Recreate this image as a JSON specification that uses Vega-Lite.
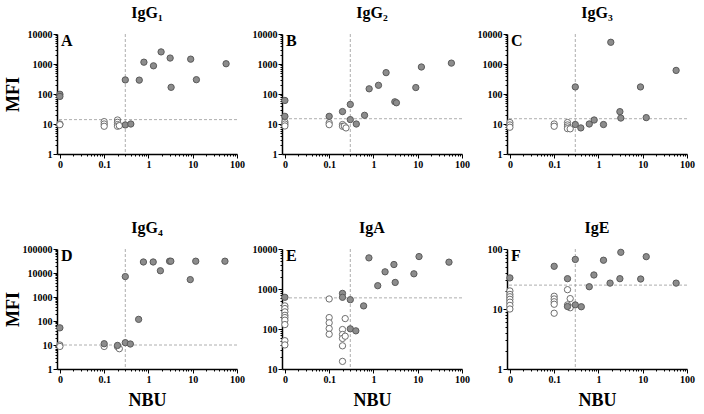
{
  "$schema": "https://vega.github.io/schema/vega-lite/v6.json",
  "background": "white",
  "padding": {"left": 4, "top": 5, "right": 5, "bottom": 5},
  "datasets": {
    "cuts": [
      {"panel": "A", "letter": "A", "nbu_cut": 0.3, "mfi_cut": 14},
      {"panel": "B", "letter": "B", "nbu_cut": 0.3, "mfi_cut": 15},
      {"panel": "C", "letter": "C", "nbu_cut": 0.3, "mfi_cut": 15},
      {"panel": "D", "letter": "D", "nbu_cut": 0.3, "mfi_cut": 10},
      {"panel": "E", "letter": "E", "nbu_cut": 0.3, "mfi_cut": 600},
      {"panel": "F", "letter": "F", "nbu_cut": 0.3, "mfi_cut": 25}
    ],
    "pts": [
      {"panel": "A", "nbu": 0.01, "mfi": 10, "type": "neg"},
      {"panel": "A", "nbu": 0.01, "mfi": 9.5, "type": "neg"},
      {"panel": "A", "nbu": 0.1, "mfi": 12, "type": "neg"},
      {"panel": "A", "nbu": 0.1, "mfi": 10, "type": "neg"},
      {"panel": "A", "nbu": 0.1, "mfi": 8.4, "type": "neg"},
      {"panel": "A", "nbu": 0.2, "mfi": 13.6, "type": "neg"},
      {"panel": "A", "nbu": 0.2, "mfi": 11.4, "type": "neg"},
      {"panel": "A", "nbu": 0.2, "mfi": 9.6, "type": "neg"},
      {"panel": "A", "nbu": 0.2, "mfi": 8.4, "type": "neg"},
      {"panel": "A", "nbu": 0.22, "mfi": 8.8, "type": "neg"},
      {"panel": "A", "nbu": 0.01, "mfi": 98, "type": "pos"},
      {"panel": "A", "nbu": 0.01, "mfi": 83, "type": "pos"},
      {"panel": "A", "nbu": 0.3, "mfi": 9.3, "type": "pos"},
      {"panel": "A", "nbu": 0.4, "mfi": 10, "type": "pos"},
      {"panel": "A", "nbu": 0.3, "mfi": 295, "type": "pos"},
      {"panel": "A", "nbu": 0.62, "mfi": 290, "type": "pos"},
      {"panel": "A", "nbu": 0.79, "mfi": 1150, "type": "pos"},
      {"panel": "A", "nbu": 1.3, "mfi": 870, "type": "pos"},
      {"panel": "A", "nbu": 1.93, "mfi": 2530, "type": "pos"},
      {"panel": "A", "nbu": 3.09, "mfi": 1580, "type": "pos"},
      {"panel": "A", "nbu": 3.25, "mfi": 167, "type": "pos"},
      {"panel": "A", "nbu": 9.0, "mfi": 1450, "type": "pos"},
      {"panel": "A", "nbu": 12.1, "mfi": 300, "type": "pos"},
      {"panel": "A", "nbu": 56.7, "mfi": 1020, "type": "pos"},

      {"panel": "B", "nbu": 0.01, "mfi": 11.7, "type": "neg"},
      {"panel": "B", "nbu": 0.01, "mfi": 10, "type": "neg"},
      {"panel": "B", "nbu": 0.01, "mfi": 8.6, "type": "neg"},
      {"panel": "B", "nbu": 0.1, "mfi": 11, "type": "neg"},
      {"panel": "B", "nbu": 0.1, "mfi": 9.5, "type": "neg"},
      {"panel": "B", "nbu": 0.2, "mfi": 9.6, "type": "neg"},
      {"panel": "B", "nbu": 0.2, "mfi": 8.4, "type": "neg"},
      {"panel": "B", "nbu": 0.22, "mfi": 8.5, "type": "neg"},
      {"panel": "B", "nbu": 0.24, "mfi": 7.4, "type": "neg"},
      {"panel": "B", "nbu": 0.01, "mfi": 61, "type": "pos"},
      {"panel": "B", "nbu": 0.01, "mfi": 18, "type": "pos"},
      {"panel": "B", "nbu": 0.1, "mfi": 18, "type": "pos"},
      {"panel": "B", "nbu": 0.2, "mfi": 26, "type": "pos"},
      {"panel": "B", "nbu": 0.3, "mfi": 45, "type": "pos"},
      {"panel": "B", "nbu": 0.3, "mfi": 14, "type": "pos"},
      {"panel": "B", "nbu": 0.41, "mfi": 10, "type": "pos"},
      {"panel": "B", "nbu": 0.63, "mfi": 19.5, "type": "pos"},
      {"panel": "B", "nbu": 0.8, "mfi": 149, "type": "pos"},
      {"panel": "B", "nbu": 1.3, "mfi": 195, "type": "pos"},
      {"panel": "B", "nbu": 1.93, "mfi": 515, "type": "pos"},
      {"panel": "B", "nbu": 3.04, "mfi": 55, "type": "pos"},
      {"panel": "B", "nbu": 3.3, "mfi": 51, "type": "pos"},
      {"panel": "B", "nbu": 9.05, "mfi": 164, "type": "pos"},
      {"panel": "B", "nbu": 12.1, "mfi": 795, "type": "pos"},
      {"panel": "B", "nbu": 57.6, "mfi": 1070, "type": "pos"},

      {"panel": "C", "nbu": 0.01, "mfi": 11.2, "type": "neg"},
      {"panel": "C", "nbu": 0.01, "mfi": 9.3, "type": "neg"},
      {"panel": "C", "nbu": 0.01, "mfi": 7.8, "type": "neg"},
      {"panel": "C", "nbu": 0.1, "mfi": 10, "type": "neg"},
      {"panel": "C", "nbu": 0.1, "mfi": 8.4, "type": "neg"},
      {"panel": "C", "nbu": 0.2, "mfi": 11.2, "type": "neg"},
      {"panel": "C", "nbu": 0.2, "mfi": 9.3, "type": "neg"},
      {"panel": "C", "nbu": 0.2, "mfi": 8.0, "type": "neg"},
      {"panel": "C", "nbu": 0.2, "mfi": 7.0, "type": "neg"},
      {"panel": "C", "nbu": 0.23, "mfi": 6.9, "type": "neg"},
      {"panel": "C", "nbu": 0.3, "mfi": 172, "type": "pos"},
      {"panel": "C", "nbu": 0.3, "mfi": 9.6, "type": "pos"},
      {"panel": "C", "nbu": 0.4, "mfi": 7.4, "type": "pos"},
      {"panel": "C", "nbu": 0.62, "mfi": 10, "type": "pos"},
      {"panel": "C", "nbu": 0.8, "mfi": 13.6, "type": "pos"},
      {"panel": "C", "nbu": 1.3, "mfi": 9.6, "type": "pos"},
      {"panel": "C", "nbu": 1.9, "mfi": 5300, "type": "pos"},
      {"panel": "C", "nbu": 3.05, "mfi": 25.8, "type": "pos"},
      {"panel": "C", "nbu": 3.2, "mfi": 15.8, "type": "pos"},
      {"panel": "C", "nbu": 8.9, "mfi": 172, "type": "pos"},
      {"panel": "C", "nbu": 12, "mfi": 16.3, "type": "pos"},
      {"panel": "C", "nbu": 56.8, "mfi": 612, "type": "pos"},

      {"panel": "D", "nbu": 0.01, "mfi": 10, "type": "neg"},
      {"panel": "D", "nbu": 0.01, "mfi": 8.7, "type": "neg"},
      {"panel": "D", "nbu": 0.1, "mfi": 8.7, "type": "neg"},
      {"panel": "D", "nbu": 0.2, "mfi": 8.5, "type": "neg"},
      {"panel": "D", "nbu": 0.22, "mfi": 7, "type": "neg"},
      {"panel": "D", "nbu": 0.01, "mfi": 52, "type": "pos"},
      {"panel": "D", "nbu": 0.1, "mfi": 11.3, "type": "pos"},
      {"panel": "D", "nbu": 0.2, "mfi": 9.6, "type": "pos"},
      {"panel": "D", "nbu": 0.3, "mfi": 7100, "type": "pos"},
      {"panel": "D", "nbu": 0.3, "mfi": 12.5, "type": "pos"},
      {"panel": "D", "nbu": 0.39, "mfi": 11, "type": "pos"},
      {"panel": "D", "nbu": 0.6, "mfi": 117, "type": "pos"},
      {"panel": "D", "nbu": 0.77, "mfi": 28800, "type": "pos"},
      {"panel": "D", "nbu": 1.28, "mfi": 28800, "type": "pos"},
      {"panel": "D", "nbu": 1.86, "mfi": 12400, "type": "pos"},
      {"panel": "D", "nbu": 3.0, "mfi": 31000, "type": "pos"},
      {"panel": "D", "nbu": 3.2, "mfi": 31000, "type": "pos"},
      {"panel": "D", "nbu": 8.8, "mfi": 5300, "type": "pos"},
      {"panel": "D", "nbu": 11.7, "mfi": 31000, "type": "pos"},
      {"panel": "D", "nbu": 53.4, "mfi": 31000, "type": "pos"},

      {"panel": "E", "nbu": 0.01, "mfi": 378, "type": "neg"},
      {"panel": "E", "nbu": 0.01, "mfi": 324, "type": "neg"},
      {"panel": "E", "nbu": 0.01, "mfi": 268, "type": "neg"},
      {"panel": "E", "nbu": 0.01, "mfi": 220, "type": "neg"},
      {"panel": "E", "nbu": 0.01, "mfi": 193, "type": "neg"},
      {"panel": "E", "nbu": 0.01, "mfi": 166, "type": "neg"},
      {"panel": "E", "nbu": 0.01, "mfi": 129, "type": "neg"},
      {"panel": "E", "nbu": 0.01, "mfi": 51, "type": "neg"},
      {"panel": "E", "nbu": 0.01, "mfi": 40, "type": "neg"},
      {"panel": "E", "nbu": 0.1, "mfi": 564, "type": "neg"},
      {"panel": "E", "nbu": 0.1, "mfi": 193, "type": "neg"},
      {"panel": "E", "nbu": 0.1, "mfi": 143, "type": "neg"},
      {"panel": "E", "nbu": 0.1, "mfi": 103, "type": "neg"},
      {"panel": "E", "nbu": 0.1, "mfi": 74, "type": "neg"},
      {"panel": "E", "nbu": 0.2, "mfi": 97, "type": "neg"},
      {"panel": "E", "nbu": 0.2, "mfi": 73, "type": "neg"},
      {"panel": "E", "nbu": 0.2, "mfi": 58, "type": "neg"},
      {"panel": "E", "nbu": 0.2, "mfi": 38, "type": "neg"},
      {"panel": "E", "nbu": 0.2, "mfi": 15.5, "type": "neg"},
      {"panel": "E", "nbu": 0.23, "mfi": 182, "type": "neg"},
      {"panel": "E", "nbu": 0.23, "mfi": 66, "type": "neg"},
      {"panel": "E", "nbu": 0.01, "mfi": 620, "type": "pos"},
      {"panel": "E", "nbu": 0.2, "mfi": 777, "type": "pos"},
      {"panel": "E", "nbu": 0.2, "mfi": 620, "type": "pos"},
      {"panel": "E", "nbu": 0.3, "mfi": 540, "type": "pos"},
      {"panel": "E", "nbu": 0.3, "mfi": 101, "type": "pos"},
      {"panel": "E", "nbu": 0.4, "mfi": 90, "type": "pos"},
      {"panel": "E", "nbu": 0.6, "mfi": 378, "type": "pos"},
      {"panel": "E", "nbu": 0.79, "mfi": 6000, "type": "pos"},
      {"panel": "E", "nbu": 1.25, "mfi": 1210, "type": "pos"},
      {"panel": "E", "nbu": 1.83, "mfi": 2690, "type": "pos"},
      {"panel": "E", "nbu": 2.9, "mfi": 4090, "type": "pos"},
      {"panel": "E", "nbu": 3.1, "mfi": 1460, "type": "pos"},
      {"panel": "E", "nbu": 8.2, "mfi": 2400, "type": "pos"},
      {"panel": "E", "nbu": 10.7, "mfi": 6470, "type": "pos"},
      {"panel": "E", "nbu": 50.8, "mfi": 4690, "type": "pos"},

      {"panel": "F", "nbu": 0.01, "mfi": 20, "type": "neg"},
      {"panel": "F", "nbu": 0.01, "mfi": 17.5, "type": "neg"},
      {"panel": "F", "nbu": 0.01, "mfi": 16, "type": "neg"},
      {"panel": "F", "nbu": 0.01, "mfi": 14.5, "type": "neg"},
      {"panel": "F", "nbu": 0.01, "mfi": 13, "type": "neg"},
      {"panel": "F", "nbu": 0.01, "mfi": 11.5, "type": "neg"},
      {"panel": "F", "nbu": 0.01, "mfi": 10, "type": "neg"},
      {"panel": "F", "nbu": 0.1, "mfi": 16.3, "type": "neg"},
      {"panel": "F", "nbu": 0.1, "mfi": 14.7, "type": "neg"},
      {"panel": "F", "nbu": 0.1, "mfi": 13.2, "type": "neg"},
      {"panel": "F", "nbu": 0.1, "mfi": 12, "type": "neg"},
      {"panel": "F", "nbu": 0.1, "mfi": 8.5, "type": "neg"},
      {"panel": "F", "nbu": 0.2, "mfi": 21, "type": "neg"},
      {"panel": "F", "nbu": 0.23, "mfi": 14.9, "type": "neg"},
      {"panel": "F", "nbu": 0.2, "mfi": 11.7, "type": "neg"},
      {"panel": "F", "nbu": 0.23, "mfi": 10.5, "type": "neg"},
      {"panel": "F", "nbu": 0.01, "mfi": 33, "type": "pos"},
      {"panel": "F", "nbu": 0.1, "mfi": 51.5, "type": "pos"},
      {"panel": "F", "nbu": 0.2, "mfi": 32, "type": "pos"},
      {"panel": "F", "nbu": 0.2, "mfi": 11, "type": "pos"},
      {"panel": "F", "nbu": 0.3, "mfi": 67, "type": "pos"},
      {"panel": "F", "nbu": 0.3, "mfi": 11.7, "type": "pos"},
      {"panel": "F", "nbu": 0.41, "mfi": 10.9, "type": "pos"},
      {"panel": "F", "nbu": 0.62, "mfi": 23.5, "type": "pos"},
      {"panel": "F", "nbu": 0.79, "mfi": 36.9, "type": "pos"},
      {"panel": "F", "nbu": 1.3, "mfi": 65, "type": "pos"},
      {"panel": "F", "nbu": 1.83, "mfi": 27, "type": "pos"},
      {"panel": "F", "nbu": 3.2, "mfi": 88, "type": "pos"},
      {"panel": "F", "nbu": 3.05, "mfi": 32, "type": "pos"},
      {"panel": "F", "nbu": 9.0, "mfi": 31.6, "type": "pos"},
      {"panel": "F", "nbu": 12, "mfi": 74.5, "type": "pos"},
      {"panel": "F", "nbu": 56.8, "mfi": 27, "type": "pos"}
    ]
  },
  "columns": 3,
  "bounds": "flush",
  "spacing": {"row": 95, "column": 45},
  "concat": [
    {
      "width": 180, "height": 120, "title": "IgG₁",
      "resolve": {"axis": {"x": "independent", "y": "independent"}},
      "layer": [
        {"data": {"name": "cuts"}, "transform": [{"filter": "datum.panel === 'A'"}],
         "mark": {"type": "rule", "color": "#999999", "strokeDash": [3, 2], "strokeWidth": 0.8},
         "encoding": {"x": {"field": "nbu_cut", "type": "quantitative", "scale": {"type": "log", "domain": [0.0086, 100], "nice": false},
           "axis": {"orient": "bottom", "values": [0.02,0.03,0.04,0.05,0.06,0.07,0.08,0.09,0.2,0.3,0.4,0.5,0.6,0.7,0.8,0.9,2,3,4,5,6,7,8,9,20,30,40,50,60,70,80,90], "tickSize": 2, "labels": false, "domain": false, "title": null}}}},
        {"data": {"name": "cuts"}, "transform": [{"filter": "datum.panel === 'A'"}],
         "mark": {"type": "rule", "color": "#999999", "strokeDash": [3, 2], "strokeWidth": 0.8},
         "encoding": {"y": {"field": "mfi_cut", "type": "quantitative", "scale": {"type": "log", "domain": [1, 10000], "nice": false},
           "axis": {"orient": "left", "values": [2,3,4,5,6,7,8,9,20,30,40,50,60,70,80,90,200,300,400,500,600,700,800,900,2000,3000,4000,5000,6000,7000,8000,9000], "tickSize": 2, "labels": false, "domain": false, "title": null}}}},
        {"data": {"name": "pts"}, "transform": [{"filter": "datum.panel === 'A'"}],
         "mark": {"type": "point", "shape": "circle", "filled": true, "size": 40, "strokeWidth": 1, "opacity": 1},
         "encoding": {
           "x": {"field": "nbu", "type": "quantitative", "scale": {"type": "log", "domain": [0.0086, 100], "nice": false},
             "axis": {"orient": "bottom", "values": [0.01, 0.1, 1, 10, 100], "title": null}},
           "y": {"field": "mfi", "type": "quantitative", "scale": {"type": "log", "domain": [1, 10000], "nice": false},
             "axis": {"orient": "left", "values": [1, 10, 100, 1000, 10000], "title": "MFI"}},
           "fill": {"field": "type", "type": "nominal", "scale": {"domain": ["pos", "neg"], "range": ["#8c8c8c", "#ffffff"]}, "legend": null},
           "stroke": {"field": "type", "type": "nominal", "scale": {"domain": ["pos", "neg"], "range": ["#5a5a5a", "#6e6e6e"]}, "legend": null}}},
        {"data": {"name": "cuts"}, "transform": [{"filter": "datum.panel === 'A'"}],
         "mark": {"type": "text", "align": "left", "baseline": "top", "font": "Liberation Serif", "fontWeight": "bold", "fontSize": 16, "dx": 4, "dy": -1},
         "encoding": {
           "x": {"datum": 0.0086, "type": "quantitative", "scale": {"type": "log", "domain": [0.0086, 100], "nice": false}, "axis": null},
           "y": {"datum": 10000, "type": "quantitative", "scale": {"type": "log", "domain": [1, 10000], "nice": false}, "axis": null},
           "text": {"field": "letter"}}}
      ]
    },
    {
      "width": 180, "height": 120, "title": "IgG₂",
      "resolve": {"axis": {"x": "independent", "y": "independent"}},
      "layer": [
        {"data": {"name": "cuts"}, "transform": [{"filter": "datum.panel === 'B'"}],
         "mark": {"type": "rule", "color": "#999999", "strokeDash": [3, 2], "strokeWidth": 0.8},
         "encoding": {"x": {"field": "nbu_cut", "type": "quantitative", "scale": {"type": "log", "domain": [0.0086, 100], "nice": false},
           "axis": {"orient": "bottom", "values": [0.02,0.03,0.04,0.05,0.06,0.07,0.08,0.09,0.2,0.3,0.4,0.5,0.6,0.7,0.8,0.9,2,3,4,5,6,7,8,9,20,30,40,50,60,70,80,90], "tickSize": 2, "labels": false, "domain": false, "title": null}}}},
        {"data": {"name": "cuts"}, "transform": [{"filter": "datum.panel === 'B'"}],
         "mark": {"type": "rule", "color": "#999999", "strokeDash": [3, 2], "strokeWidth": 0.8},
         "encoding": {"y": {"field": "mfi_cut", "type": "quantitative", "scale": {"type": "log", "domain": [1, 10000], "nice": false},
           "axis": {"orient": "left", "values": [2,3,4,5,6,7,8,9,20,30,40,50,60,70,80,90,200,300,400,500,600,700,800,900,2000,3000,4000,5000,6000,7000,8000,9000], "tickSize": 2, "labels": false, "domain": false, "title": null}}}},
        {"data": {"name": "pts"}, "transform": [{"filter": "datum.panel === 'B'"}],
         "mark": {"type": "point", "shape": "circle", "filled": true, "size": 40, "strokeWidth": 1, "opacity": 1},
         "encoding": {
           "x": {"field": "nbu", "type": "quantitative", "scale": {"type": "log", "domain": [0.0086, 100], "nice": false},
             "axis": {"orient": "bottom", "values": [0.01, 0.1, 1, 10, 100], "title": null}},
           "y": {"field": "mfi", "type": "quantitative", "scale": {"type": "log", "domain": [1, 10000], "nice": false},
             "axis": {"orient": "left", "values": [1, 10, 100, 1000, 10000], "title": null}},
           "fill": {"field": "type", "type": "nominal", "scale": {"domain": ["pos", "neg"], "range": ["#8c8c8c", "#ffffff"]}, "legend": null},
           "stroke": {"field": "type", "type": "nominal", "scale": {"domain": ["pos", "neg"], "range": ["#5a5a5a", "#6e6e6e"]}, "legend": null}}},
        {"data": {"name": "cuts"}, "transform": [{"filter": "datum.panel === 'B'"}],
         "mark": {"type": "text", "align": "left", "baseline": "top", "font": "Liberation Serif", "fontWeight": "bold", "fontSize": 16, "dx": 4, "dy": -1},
         "encoding": {
           "x": {"datum": 0.0086, "type": "quantitative", "scale": {"type": "log", "domain": [0.0086, 100], "nice": false}, "axis": null},
           "y": {"datum": 10000, "type": "quantitative", "scale": {"type": "log", "domain": [1, 10000], "nice": false}, "axis": null},
           "text": {"field": "letter"}}}
      ]
    },
    {
      "width": 180, "height": 120, "title": "IgG₃",
      "resolve": {"axis": {"x": "independent", "y": "independent"}},
      "layer": [
        {"data": {"name": "cuts"}, "transform": [{"filter": "datum.panel === 'C'"}],
         "mark": {"type": "rule", "color": "#999999", "strokeDash": [3, 2], "strokeWidth": 0.8},
         "encoding": {"x": {"field": "nbu_cut", "type": "quantitative", "scale": {"type": "log", "domain": [0.0086, 100], "nice": false},
           "axis": {"orient": "bottom", "values": [0.02,0.03,0.04,0.05,0.06,0.07,0.08,0.09,0.2,0.3,0.4,0.5,0.6,0.7,0.8,0.9,2,3,4,5,6,7,8,9,20,30,40,50,60,70,80,90], "tickSize": 2, "labels": false, "domain": false, "title": null}}}},
        {"data": {"name": "cuts"}, "transform": [{"filter": "datum.panel === 'C'"}],
         "mark": {"type": "rule", "color": "#999999", "strokeDash": [3, 2], "strokeWidth": 0.8},
         "encoding": {"y": {"field": "mfi_cut", "type": "quantitative", "scale": {"type": "log", "domain": [1, 10000], "nice": false},
           "axis": {"orient": "left", "values": [2,3,4,5,6,7,8,9,20,30,40,50,60,70,80,90,200,300,400,500,600,700,800,900,2000,3000,4000,5000,6000,7000,8000,9000], "tickSize": 2, "labels": false, "domain": false, "title": null}}}},
        {"data": {"name": "pts"}, "transform": [{"filter": "datum.panel === 'C'"}],
         "mark": {"type": "point", "shape": "circle", "filled": true, "size": 40, "strokeWidth": 1, "opacity": 1},
         "encoding": {
           "x": {"field": "nbu", "type": "quantitative", "scale": {"type": "log", "domain": [0.0086, 100], "nice": false},
             "axis": {"orient": "bottom", "values": [0.01, 0.1, 1, 10, 100], "title": null}},
           "y": {"field": "mfi", "type": "quantitative", "scale": {"type": "log", "domain": [1, 10000], "nice": false},
             "axis": {"orient": "left", "values": [1, 10, 100, 1000, 10000], "title": null}},
           "fill": {"field": "type", "type": "nominal", "scale": {"domain": ["pos", "neg"], "range": ["#8c8c8c", "#ffffff"]}, "legend": null},
           "stroke": {"field": "type", "type": "nominal", "scale": {"domain": ["pos", "neg"], "range": ["#5a5a5a", "#6e6e6e"]}, "legend": null}}},
        {"data": {"name": "cuts"}, "transform": [{"filter": "datum.panel === 'C'"}],
         "mark": {"type": "text", "align": "left", "baseline": "top", "font": "Liberation Serif", "fontWeight": "bold", "fontSize": 16, "dx": 4, "dy": -1},
         "encoding": {
           "x": {"datum": 0.0086, "type": "quantitative", "scale": {"type": "log", "domain": [0.0086, 100], "nice": false}, "axis": null},
           "y": {"datum": 10000, "type": "quantitative", "scale": {"type": "log", "domain": [1, 10000], "nice": false}, "axis": null},
           "text": {"field": "letter"}}}
      ]
    },
    {
      "width": 180, "height": 120, "title": "IgG₄",
      "resolve": {"axis": {"x": "independent", "y": "independent"}},
      "layer": [
        {"data": {"name": "cuts"}, "transform": [{"filter": "datum.panel === 'D'"}],
         "mark": {"type": "rule", "color": "#999999", "strokeDash": [3, 2], "strokeWidth": 0.8},
         "encoding": {"x": {"field": "nbu_cut", "type": "quantitative", "scale": {"type": "log", "domain": [0.0086, 100], "nice": false},
           "axis": {"orient": "bottom", "values": [0.02,0.03,0.04,0.05,0.06,0.07,0.08,0.09,0.2,0.3,0.4,0.5,0.6,0.7,0.8,0.9,2,3,4,5,6,7,8,9,20,30,40,50,60,70,80,90], "tickSize": 2, "labels": false, "domain": false, "title": null}}}},
        {"data": {"name": "cuts"}, "transform": [{"filter": "datum.panel === 'D'"}],
         "mark": {"type": "rule", "color": "#999999", "strokeDash": [3, 2], "strokeWidth": 0.8},
         "encoding": {"y": {"field": "mfi_cut", "type": "quantitative", "scale": {"type": "log", "domain": [1, 100000], "nice": false},
           "axis": {"orient": "left", "values": [2,3,4,5,6,7,8,9,20,30,40,50,60,70,80,90,200,300,400,500,600,700,800,900,2000,3000,4000,5000,6000,7000,8000,9000,20000,30000,40000,50000,60000,70000,80000,90000], "tickSize": 2, "labels": false, "domain": false, "title": null}}}},
        {"data": {"name": "pts"}, "transform": [{"filter": "datum.panel === 'D'"}],
         "mark": {"type": "point", "shape": "circle", "filled": true, "size": 40, "strokeWidth": 1, "opacity": 1},
         "encoding": {
           "x": {"field": "nbu", "type": "quantitative", "scale": {"type": "log", "domain": [0.0086, 100], "nice": false},
             "axis": {"orient": "bottom", "values": [0.01, 0.1, 1, 10, 100], "title": "NBU"}},
           "y": {"field": "mfi", "type": "quantitative", "scale": {"type": "log", "domain": [1, 100000], "nice": false},
             "axis": {"orient": "left", "values": [1, 10, 100, 1000, 10000, 100000], "title": "MFI"}},
           "fill": {"field": "type", "type": "nominal", "scale": {"domain": ["pos", "neg"], "range": ["#8c8c8c", "#ffffff"]}, "legend": null},
           "stroke": {"field": "type", "type": "nominal", "scale": {"domain": ["pos", "neg"], "range": ["#5a5a5a", "#6e6e6e"]}, "legend": null}}},
        {"data": {"name": "cuts"}, "transform": [{"filter": "datum.panel === 'D'"}],
         "mark": {"type": "text", "align": "left", "baseline": "top", "font": "Liberation Serif", "fontWeight": "bold", "fontSize": 16, "dx": 4, "dy": -1},
         "encoding": {
           "x": {"datum": 0.0086, "type": "quantitative", "scale": {"type": "log", "domain": [0.0086, 100], "nice": false}, "axis": null},
           "y": {"datum": 100000, "type": "quantitative", "scale": {"type": "log", "domain": [1, 100000], "nice": false}, "axis": null},
           "text": {"field": "letter"}}}
      ]
    },
    {
      "width": 180, "height": 120, "title": "IgA",
      "resolve": {"axis": {"x": "independent", "y": "independent"}},
      "layer": [
        {"data": {"name": "cuts"}, "transform": [{"filter": "datum.panel === 'E'"}],
         "mark": {"type": "rule", "color": "#999999", "strokeDash": [3, 2], "strokeWidth": 0.8},
         "encoding": {"x": {"field": "nbu_cut", "type": "quantitative", "scale": {"type": "log", "domain": [0.0086, 100], "nice": false},
           "axis": {"orient": "bottom", "values": [0.02,0.03,0.04,0.05,0.06,0.07,0.08,0.09,0.2,0.3,0.4,0.5,0.6,0.7,0.8,0.9,2,3,4,5,6,7,8,9,20,30,40,50,60,70,80,90], "tickSize": 2, "labels": false, "domain": false, "title": null}}}},
        {"data": {"name": "cuts"}, "transform": [{"filter": "datum.panel === 'E'"}],
         "mark": {"type": "rule", "color": "#999999", "strokeDash": [3, 2], "strokeWidth": 0.8},
         "encoding": {"y": {"field": "mfi_cut", "type": "quantitative", "scale": {"type": "log", "domain": [10, 10000], "nice": false},
           "axis": {"orient": "left", "values": [20,30,40,50,60,70,80,90,200,300,400,500,600,700,800,900,2000,3000,4000,5000,6000,7000,8000,9000], "tickSize": 2, "labels": false, "domain": false, "title": null}}}},
        {"data": {"name": "pts"}, "transform": [{"filter": "datum.panel === 'E'"}],
         "mark": {"type": "point", "shape": "circle", "filled": true, "size": 40, "strokeWidth": 1, "opacity": 1},
         "encoding": {
           "x": {"field": "nbu", "type": "quantitative", "scale": {"type": "log", "domain": [0.0086, 100], "nice": false},
             "axis": {"orient": "bottom", "values": [0.01, 0.1, 1, 10, 100], "title": "NBU"}},
           "y": {"field": "mfi", "type": "quantitative", "scale": {"type": "log", "domain": [10, 10000], "nice": false},
             "axis": {"orient": "left", "values": [10, 100, 1000, 10000], "title": null}},
           "fill": {"field": "type", "type": "nominal", "scale": {"domain": ["pos", "neg"], "range": ["#8c8c8c", "#ffffff"]}, "legend": null},
           "stroke": {"field": "type", "type": "nominal", "scale": {"domain": ["pos", "neg"], "range": ["#5a5a5a", "#6e6e6e"]}, "legend": null}}},
        {"data": {"name": "cuts"}, "transform": [{"filter": "datum.panel === 'E'"}],
         "mark": {"type": "text", "align": "left", "baseline": "top", "font": "Liberation Serif", "fontWeight": "bold", "fontSize": 16, "dx": 4, "dy": -1},
         "encoding": {
           "x": {"datum": 0.0086, "type": "quantitative", "scale": {"type": "log", "domain": [0.0086, 100], "nice": false}, "axis": null},
           "y": {"datum": 10000, "type": "quantitative", "scale": {"type": "log", "domain": [10, 10000], "nice": false}, "axis": null},
           "text": {"field": "letter"}}}
      ]
    },
    {
      "width": 180, "height": 120, "title": "IgE",
      "resolve": {"axis": {"x": "independent", "y": "independent"}},
      "layer": [
        {"data": {"name": "cuts"}, "transform": [{"filter": "datum.panel === 'F'"}],
         "mark": {"type": "rule", "color": "#999999", "strokeDash": [3, 2], "strokeWidth": 0.8},
         "encoding": {"x": {"field": "nbu_cut", "type": "quantitative", "scale": {"type": "log", "domain": [0.0086, 100], "nice": false},
           "axis": {"orient": "bottom", "values": [0.02,0.03,0.04,0.05,0.06,0.07,0.08,0.09,0.2,0.3,0.4,0.5,0.6,0.7,0.8,0.9,2,3,4,5,6,7,8,9,20,30,40,50,60,70,80,90], "tickSize": 2, "labels": false, "domain": false, "title": null}}}},
        {"data": {"name": "cuts"}, "transform": [{"filter": "datum.panel === 'F'"}],
         "mark": {"type": "rule", "color": "#999999", "strokeDash": [3, 2], "strokeWidth": 0.8},
         "encoding": {"y": {"field": "mfi_cut", "type": "quantitative", "scale": {"type": "log", "domain": [1, 100], "nice": false},
           "axis": {"orient": "left", "values": [2,3,4,5,6,7,8,9,20,30,40,50,60,70,80,90], "tickSize": 2, "labels": false, "domain": false, "title": null}}}},
        {"data": {"name": "pts"}, "transform": [{"filter": "datum.panel === 'F'"}],
         "mark": {"type": "point", "shape": "circle", "filled": true, "size": 40, "strokeWidth": 1, "opacity": 1},
         "encoding": {
           "x": {"field": "nbu", "type": "quantitative", "scale": {"type": "log", "domain": [0.0086, 100], "nice": false},
             "axis": {"orient": "bottom", "values": [0.01, 0.1, 1, 10, 100], "title": "NBU"}},
           "y": {"field": "mfi", "type": "quantitative", "scale": {"type": "log", "domain": [1, 100], "nice": false},
             "axis": {"orient": "left", "values": [1, 10, 100], "title": null}},
           "fill": {"field": "type", "type": "nominal", "scale": {"domain": ["pos", "neg"], "range": ["#8c8c8c", "#ffffff"]}, "legend": null},
           "stroke": {"field": "type", "type": "nominal", "scale": {"domain": ["pos", "neg"], "range": ["#5a5a5a", "#6e6e6e"]}, "legend": null}}},
        {"data": {"name": "cuts"}, "transform": [{"filter": "datum.panel === 'F'"}],
         "mark": {"type": "text", "align": "left", "baseline": "top", "font": "Liberation Serif", "fontWeight": "bold", "fontSize": 16, "dx": 4, "dy": -1},
         "encoding": {
           "x": {"datum": 0.0086, "type": "quantitative", "scale": {"type": "log", "domain": [0.0086, 100], "nice": false}, "axis": null},
           "y": {"datum": 100, "type": "quantitative", "scale": {"type": "log", "domain": [1, 100], "nice": false}, "axis": null},
           "text": {"field": "letter"}}}
      ]
    }
  ],
  "config": {
    "view": {"stroke": null},
    "font": "Liberation Serif",
    "title": {"font": "Liberation Serif", "fontSize": 16, "fontWeight": "bold", "color": "black", "offset": 8},
    "axis": {
      "grid": false,
      "labelFont": "Liberation Serif", "labelFontWeight": "bold", "labelFontSize": 10, "labelColor": "black",
      "labelOverlap": false, "labelPadding": 1, "labelFlush": false,
      "domainColor": "black", "domainWidth": 1.5, "tickColor": "black", "tickWidth": 1, "tickSize": 4,
      "titleFont": "Liberation Serif", "titleFontWeight": "bold", "titleFontSize": 18, "titleColor": "black"
    },
    "axisX": {
      "format": "~g",
      "labelExpr": "datum.value < 0.05 ? '0' : datum.label",
      "titlePadding": 7
    },
    "axisY": {
      "format": "d",
      "titleX": -39,
      "titleBaseline": "alphabetic",
      "titleAngle": -90
    }
  }
}
